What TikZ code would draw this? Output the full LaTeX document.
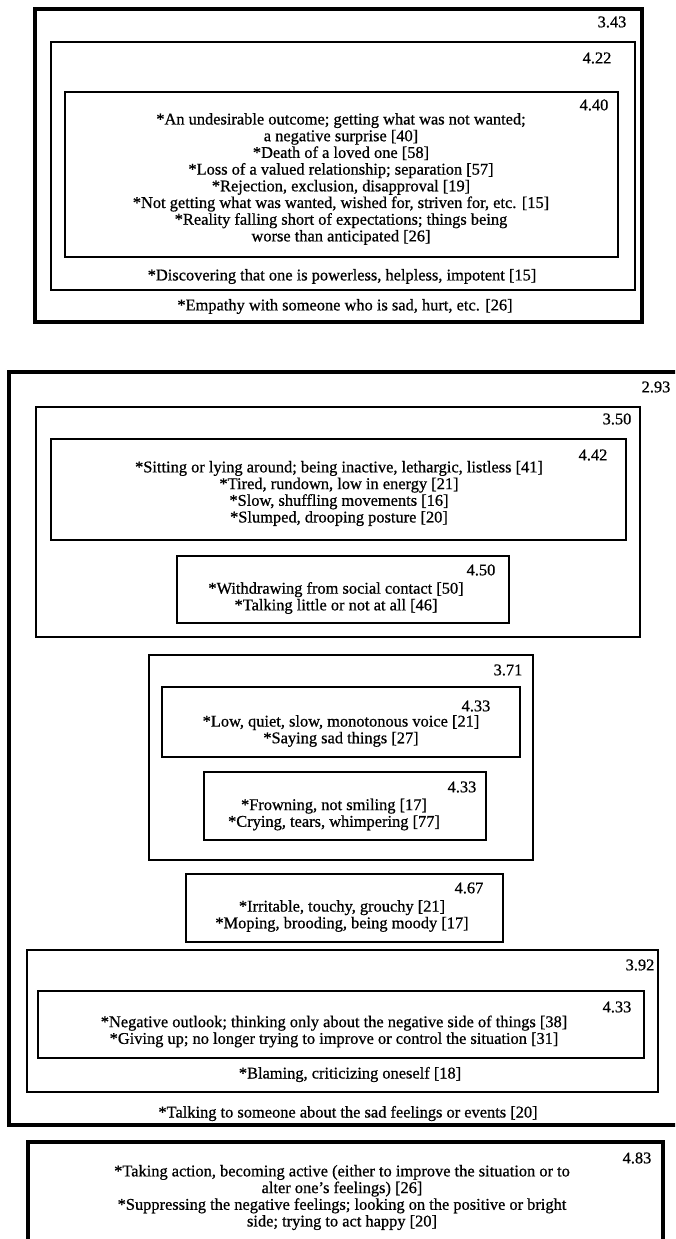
\documentclass[tikz,border=0pt]{standalone}
\usepackage{fontspec}
\setmainfont{Liberation Serif}[FakeBold=0.7]
\usetikzlibrary{fit}
\newcommand\fs{\fontsize{16.4}{16.7}\selectfont}
\tikzset{
  thickbox/.style={draw, line width=3.6pt, inner sep=0pt},
  thinbox/.style={draw, line width=1.5pt, inner sep=0pt},
  lab/.style={font=\fs, inner sep=0pt},
  txt/.style={font=\fs, align=center, inner sep=0pt},
}
\begin{document}
\begin{tikzpicture}[x=1pt,y=-1pt]
\useasboundingbox (0,0) rectangle (675,1239);
\clip (0,0) rectangle (675,1239);
\fill[white] (0,0) rectangle (675,1239);
% ---------- top block ----------
\node[thickbox, fit={(35,9) (642,322)}] (o1) {};
\node[thinbox, fit={(51,42) (635,290)}] (b422) {};
\node[thinbox, fit={(65,92) (618,257)}] (b440) {};
\node[lab] (l343) at (612,22) {3.43};
\node[lab] (l422) at (597,58) {4.22};
\node[lab] (l440) at (594,105) {4.40};
\node[txt] (t440) at (341,179) {*An undesirable outcome; getting what was not wanted;\\
a negative surprise [40]\\
*Death of a loved one [58]\\
*Loss of a valued relationship; separation [57]\\
*Rejection, exclusion, disapproval [19]\\
*Not getting what was wanted, wished for, striven for, etc. [15]\\
*Reality falling short of expectations; things being\\
worse than anticipated [26]};
\node[txt] (t422) at (342,276.5) {*Discovering that one is powerless, helpless, impotent [15]};
\node[txt] (t343) at (345,306.5) {*Empathy with someone who is sad, hurt, etc. [26]};
% ---------- middle block ----------
\node[thickbox, fit={(9,372) (690,1125)}] (o2) {};
\node[lab] (l293) at (656,387) {2.93};
\node[thinbox, fit={(36,407) (640,637)}] (b350) {};
\node[lab] (l350) at (617,419) {3.50};
\node[thinbox, fit={(51,439) (626,540)}] (b442) {};
\node[lab] (l442) at (593,455) {4.42};
\node[txt] (t442) at (339,493.5) {*Sitting or lying around; being inactive, lethargic, listless [41]\\
*Tired, rundown, low in energy [21]\\
*Slow, shuffling movements [16]\\
*Slumped, drooping posture [20]};
\node[thinbox, fit={(177,556) (509,623)}] (b450) {};
\node[lab] (l450) at (481,570) {4.50};
\node[txt] (t450) at (336,598) {*Withdrawing from social contact [50]\\
*Talking little or not at all [46]};
\node[thinbox, fit={(149,655) (533,860)}] (b371) {};
\node[lab] (l371) at (508,670) {3.71};
\node[thinbox, fit={(162,687) (520,757)}] (b433a) {};
\node[lab] (l433a) at (476,706) {4.33};
\node[txt] (t433a) at (341,731) {*Low, quiet, slow, monotonous voice [21]\\
*Saying sad things [27]};
\node[thinbox, fit={(204,772) (486,840)}] (b433b) {};
\node[lab] (l433b) at (462,787) {4.33};
\node[txt] (t433b) at (334,814.5) {*Frowning, not smiling [17]\\
*Crying, tears, whimpering [77]};
\node[thinbox, fit={(186,874) (503,942)}] (b467) {};
\node[lab] (l467) at (469,888) {4.67};
\node[txt] (t467) at (342,916) {*Irritable, touchy, grouchy [21]\\
*Moping, brooding, being moody [17]};
\node[thinbox, fit={(27,950) (658,1092)}] (b392) {};
\node[lab] (l392) at (640,965) {3.92};
\node[thinbox, fit={(38,991) (644,1058)}] (b433c) {};
\node[lab] (l433c) at (617,1007) {4.33};
\node[txt] (t433c) at (334,1031.5) {*Negative outlook; thinking only about the negative side of things [38]\\
*Giving up; no longer trying to improve or control the situation [31]};
\node[txt] (t392) at (350,1074.5) {*Blaming, criticizing oneself [18]};
\node[txt] (t293) at (348,1113.5) {*Talking to someone about the sad feelings or events [20]};
% ---------- bottom block ----------
\node[thickbox, fit={(28,1142) (663,1270)}] (o3) {};
\node[lab] (l483) at (637,1158) {4.83};
\node[txt] (t483) at (342,1197.5) {*Taking action, becoming active (either to improve the situation or to\\
alter one's feelings) [26]\\
*Suppressing the negative feelings; looking on the positive or bright\\
side; trying to act happy [20]};
\end{tikzpicture}
\end{document}
